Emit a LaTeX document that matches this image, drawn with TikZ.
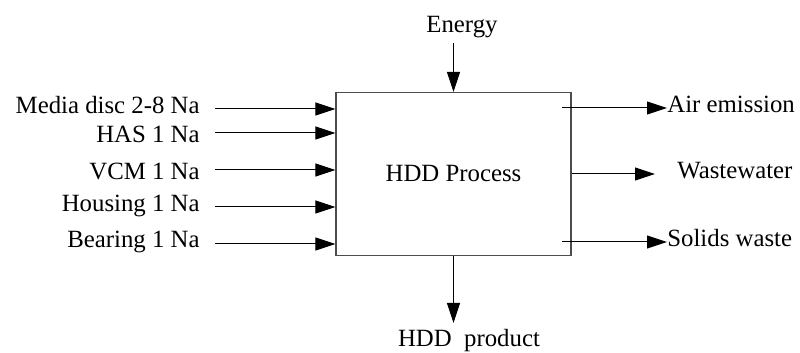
\documentclass[tikz,border=0pt]{standalone}
\usepackage{fontspec}
\setmainfont{Liberation Serif}
\usetikzlibrary{arrows.meta}

\begin{document}
\begin{tikzpicture}[x=0.5pt,y=-0.5pt,
  font=\fontsize{12.4}{15}\selectfont,
  flow/.style={-{Triangle[length=10pt,width=6.5pt]},line width=0.5pt},
  inlabel/.style={anchor=base east,inner sep=0pt},
  outlabel/.style={anchor=base west,inner sep=0pt},
  toplabel/.style={anchor=base,inner sep=0pt}]
\useasboundingbox (0,0) rectangle (800,353);
\node[draw=black!70,line width=0.6pt,minimum width=117.5pt,minimum height=81.5pt,inner sep=0pt] (hdd) at (453.5,174) {HDD Process};
% inputs
\node[inlabel] (media) at (200,114) {Media disc 2-8 Na};
\node[inlabel] (has) at (200,143) {HAS 1 Na};
\node[inlabel] (vcm) at (200,180) {VCM 1 Na};
\node[inlabel] (housing) at (200,212) {Housing 1 Na};
\node[inlabel] (bearing) at (200,248) {Bearing 1 Na};
\coordinate (in1) at (215,109);
\coordinate (in2) at (215,133);
\coordinate (in3) at (215,170);
\coordinate (in4) at (215,207);
\coordinate (in5) at (215,244);
\foreach \i in {1,...,5}
  \draw[flow] (in\i) -- (in\i -| hdd.west);
% energy
\node[toplabel] (energy) at (462,33) {Energy};
\coordinate (en) at (453.5,43);
\draw[flow] (en) -- (hdd.north);
% outputs
\node[outlabel] (air) at (667,113) {Air emission};
\node[outlabel] (water) at (677,179) {Wastewater};
\node[outlabel] (solids) at (667,247) {Solids waste};
\coordinate (out1) at (562,108);
\coordinate (out3) at (562,242);
\coordinate (ww) at (655,174);
\draw[flow] (out1) -- (air.west |- out1);
\draw[flow] (hdd.east |- ww) -- (ww);
\draw[flow] (out3) -- (solids.west |- out3);
% product
\node[toplabel] (product) at (469,347) {HDD\ \ product};
\coordinate (pr) at (453.5,323);
\draw[flow] (hdd.south) -- (pr);
\end{tikzpicture}
\end{document}
